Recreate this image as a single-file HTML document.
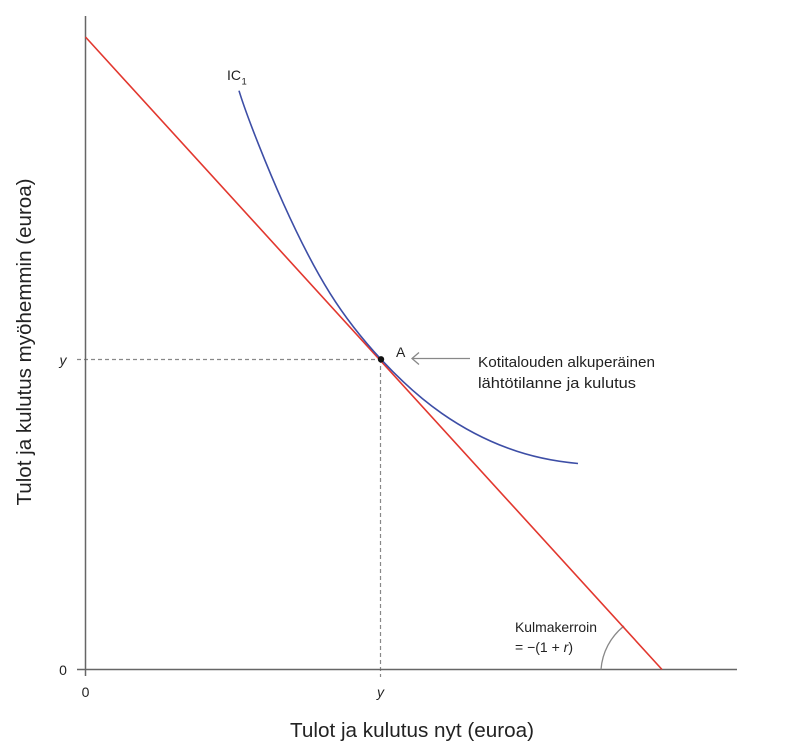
<!DOCTYPE html>
<html>
<head>
<meta charset="utf-8">
<style>
  html, body { margin: 0; padding: 0; background: #ffffff; }
  svg { display: block; }
  text { font-family: "Liberation Sans", "DejaVu Sans", sans-serif; fill: #222; }
</style>
</head>
<body>
<svg width="810" height="756" viewBox="0 0 810 756" xmlns="http://www.w3.org/2000/svg">
  <!-- dashed guide lines -->
  <line x1="77" y1="359.5" x2="381" y2="359.5" stroke="#888" stroke-width="1.2" stroke-dasharray="4,3"/>
  <line x1="380.5" y1="359" x2="380.5" y2="677" stroke="#888" stroke-width="1.2" stroke-dasharray="4,3"/>

  <!-- axes -->
  <line x1="85.5" y1="16" x2="85.5" y2="676" stroke="#666" stroke-width="1.5"/>
  <line x1="77" y1="669.5" x2="737" y2="669.5" stroke="#666" stroke-width="1.5"/>

  <!-- slope arc -->
  <path d="M 601 669.5 A 61 61 0 0 1 624 626" fill="none" stroke="#888" stroke-width="1.3"/>

  <!-- budget line -->
  <line x1="85.5" y1="37" x2="662" y2="669.5" stroke="#e2372e" stroke-width="1.6"/>

  <!-- indifference curve -->
  <path d="M 239 90.7 C 247 117, 268.1 169.5, 283.3 203.3 C 298.5 237.1, 313.7 267.3, 330 293.3 C 346.3 319.3, 362.4 339.3, 381 359.3 C 399.6 379.3, 420.5 398.5, 441.7 413.3 C 462.9 428.1, 485.8 440, 508.3 448.3 C 530.8 456.6, 555 461.5, 578 463.5" fill="none" stroke="#3d4ea6" stroke-width="1.6"/>

  <!-- point A -->
  <circle cx="381" cy="359.3" r="3.2" fill="#111"/>

  <!-- arrow -->
  <line x1="470" y1="358.5" x2="412" y2="358.5" stroke="#888" stroke-width="1.3"/>
  <polyline points="419,352.5 412,358.5 419,364.5" fill="none" stroke="#888" stroke-width="1.3"/>

  <!-- labels -->
  <text x="227" y="80" font-size="14">IC</text>
  <text x="241.5" y="84.5" font-size="9.5">1</text>
  <text x="396" y="357" font-size="14">A</text>

  <text x="478" y="367" font-size="15" textLength="177" lengthAdjust="spacingAndGlyphs">Kotitalouden alkuperäinen</text>
  <text x="478" y="388" font-size="15" textLength="158" lengthAdjust="spacingAndGlyphs">lähtötilanne ja kulutus</text>

  <text x="515" y="632" font-size="14" textLength="82" lengthAdjust="spacingAndGlyphs">Kulmakerroin</text>
  <text x="515" y="652" font-size="14">= −(1 + <tspan font-style="italic">r</tspan>)</text>

  <!-- tick labels -->
  <text x="63" y="365" font-size="14" font-style="italic" text-anchor="middle">y</text>
  <text x="63" y="675" font-size="14" text-anchor="middle">0</text>
  <text x="85.5" y="697" font-size="14" text-anchor="middle">0</text>
  <text x="380.5" y="697" font-size="14" font-style="italic" text-anchor="middle">y</text>

  <!-- axis titles -->
  <text x="412" y="737" font-size="20" text-anchor="middle" textLength="244" lengthAdjust="spacingAndGlyphs">Tulot ja kulutus nyt (euroa)</text>
  <text transform="translate(31,342) rotate(-90)" x="0" y="0" font-size="20.5" text-anchor="middle" textLength="327" lengthAdjust="spacingAndGlyphs">Tulot ja kulutus myöhemmin (euroa)</text>
</svg>
</body>
</html>
